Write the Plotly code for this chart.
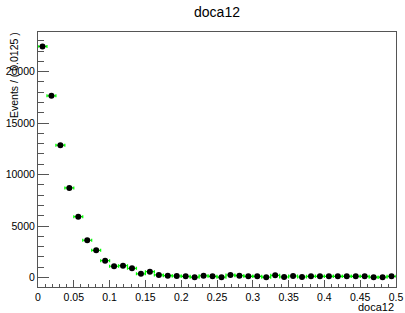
import numpy as np
import plotly.graph_objects as go

bin_width = 0.0125
bin_centers = [0.00625 + i * bin_width for i in range(40)]
events = [22450, 17650, 12860, 8700, 5910, 3620, 2640, 1630, 1090, 1150,
          895, 360, 564, 250, 180, 146, 117, 30, 170, 117,
          30, 240, 175, 117, 117, 30, 214, 50, 146, 50,
          117, 117, 117, 117, 117, 117, 117, 30, 30, 117]
x_ticks = [0, 0.05, 0.1, 0.15, 0.2, 0.25, 0.3, 0.35, 0.4, 0.45, 0.5]
x_tick_labels = ["0", "0.05", "0.1", "0.15", "0.2", "0.25", "0.3", "0.35", "0.4", "0.45", "0.5"]
y_ticks = [0, 5000, 10000, 15000, 20000]
y_tick_labels = ["0", "5000", "10000", "15000", "20000"]

yerr = [np.sqrt(v) for v in events]
xerr = [bin_width / 2] * len(events)

font = "Liberation Sans, Arial, Helvetica, sans-serif"
green = "#00ff00"
frame = "#555555"

L, R, T, B = 38, 9, 32, 26
PW = 405 - L - R
PH = 313 - T - B

fig = go.Figure()
fig.add_trace(go.Scatter(
    x=bin_centers, y=events, mode="markers",
    marker=dict(color="black", size=6, symbol="circle"),
    error_x=dict(type="data", array=xerr, color=green, thickness=1.2, width=1.5),
    error_y=dict(type="data", array=yerr, color=green, thickness=1.2, width=1.5),
    showlegend=False,
))

fig.update_layout(
    width=405, height=313,
    margin=dict(l=L, r=R, t=T, b=B),
    paper_bgcolor="white", plot_bgcolor="white",
    font=dict(family=font, size=10.5, color="black"),
    title=dict(text="doca12", x=0.5, xref="paper", xanchor="center",
               y=1 - 12 / 313, yref="container", yanchor="middle",
               font=dict(size=14, family=font, color="black")),
    xaxis=dict(range=[0, 0.5], tickvals=x_ticks, ticktext=x_tick_labels,
               ticks="inside", ticklen=7, tickcolor=frame, tickwidth=1,
               minor=dict(dtick=0.01, ticks="inside", ticklen=3.5, tickcolor=frame),
               showline=True, linecolor=frame, linewidth=1, mirror=True,
               showgrid=False, zeroline=False, automargin=False,
               tickfont=dict(size=10.5, color="black")),
    yaxis=dict(range=[-924, 23852], tickvals=y_ticks, ticktext=y_tick_labels,
               ticks="inside", ticklen=11, tickcolor=frame, tickwidth=1,
               minor=dict(dtick=1000, ticks="inside", ticklen=6, tickcolor=frame),
               showline=True, linecolor=frame, linewidth=1, mirror=True,
               showgrid=False, zeroline=False, automargin=False,
               tickfont=dict(size=10.5, color="black")),
    annotations=[
        dict(text="Events / ( 0.0125 )", textangle=-90, xref="paper", yref="paper",
             x=-(L - 14) / PW, y=1.0 + 2 / PH, xanchor="center", yanchor="top",
             showarrow=False, font=dict(size=10.5, family=font, color="black")),
        dict(text="doca12", xref="paper", yref="paper", x=1.0, y=-20 / PH,
             xanchor="right", yanchor="middle", showarrow=False,
             font=dict(size=11, family=font, color="black")),
    ],
)

fig.write_html("out.html",
               config={"displayModeBar": False},
               post_script="document.body.style.margin='0';document.body.style.overflow='hidden';")
